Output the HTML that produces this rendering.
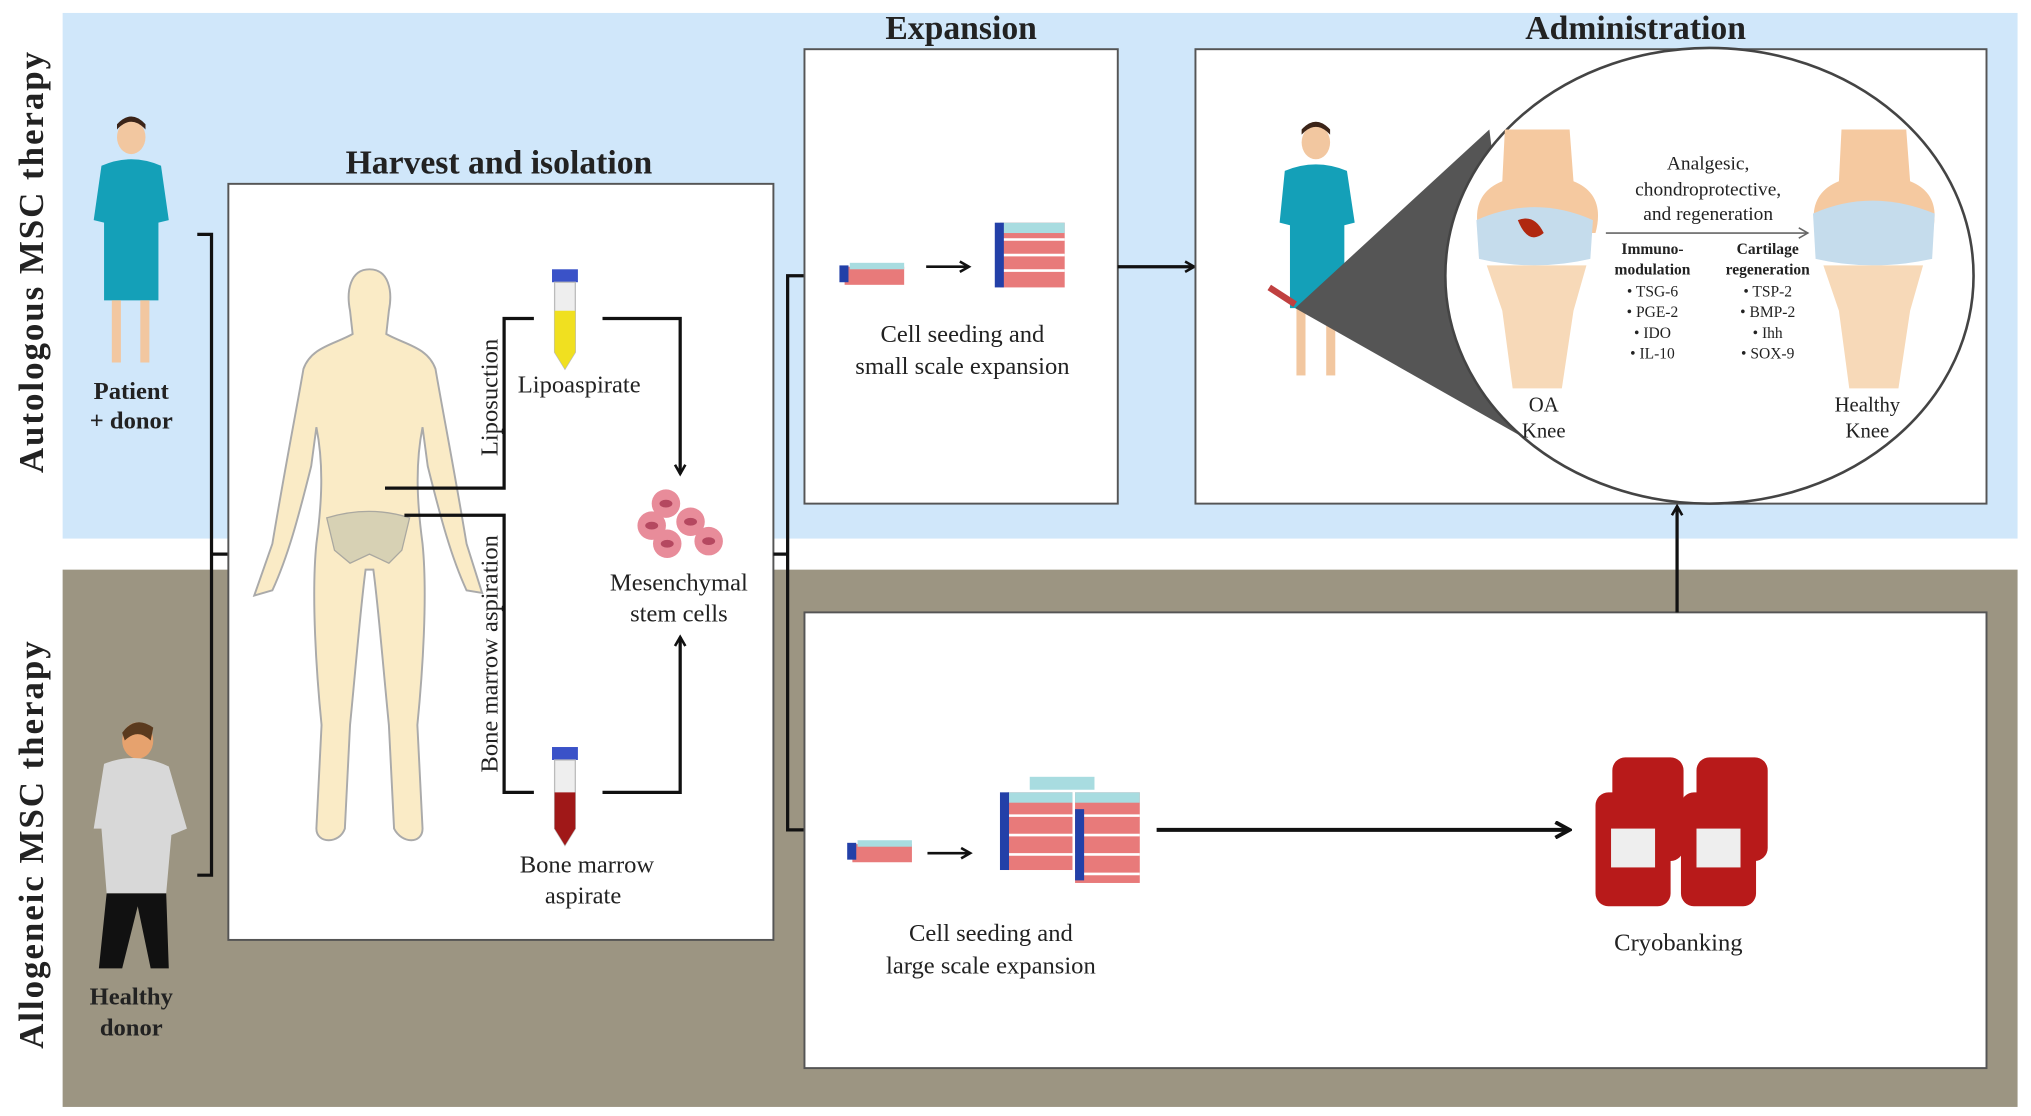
<!DOCTYPE html>
<html><head><meta charset="utf-8"><style>
html,body{margin:0;padding:0;background:#fff;}
svg{display:block;}
text{font-family:"Liberation Serif",serif;fill:#222;}
</style></head><body>
<svg width="2031" height="1116" viewBox="0 0 1568 862" xmlns="http://www.w3.org/2000/svg">
<defs>
<marker id="ah" markerWidth="10" markerHeight="10" refX="8" refY="5" orient="auto" markerUnits="userSpaceOnUse"><path d="M1,1 L8,5 L1,9" fill="none" stroke="#111" stroke-width="2"/></marker>
<marker id="ah2" markerWidth="14" markerHeight="14" refX="12" refY="7" orient="auto" markerUnits="userSpaceOnUse"><path d="M1,1 L12,7 L1,13" fill="none" stroke="#111" stroke-width="3"/></marker>
<marker id="ah3" markerWidth="10" markerHeight="10" refX="8" refY="5" orient="auto" markerUnits="userSpaceOnUse"><path d="M1,1 L8,5 L1,9" fill="none" stroke="#666" stroke-width="1.2"/></marker>
</defs>
<rect width="1568" height="862" fill="#fff"/>
<rect x="48" y="10" width="1510" height="406" fill="#d0e7fa"/>
<rect x="48" y="440" width="1510" height="415" fill="#9c9582"/>

<text transform="translate(33,202) rotate(-90)" text-anchor="middle" font-size="27" font-weight="bold" letter-spacing="1.5">Autologous MSC therapy</text>
<text transform="translate(33,652) rotate(-90)" text-anchor="middle" font-size="27" font-weight="bold" letter-spacing="1.5">Allogeneic MSC therapy</text>

<ellipse cx="101" cy="106" rx="11" ry="13" fill="#f2c7a0"/>
<path d="M90,100 Q101,88 112,100 L112,96 Q101,84 90,96Z" fill="#3b2418"/>
<path d="M78,128 Q101,118 124,128 L130,170 L122,172 L122,232 L80,232 L80,172 L72,170Z" fill="#14a0b8"/>
<rect x="86" y="232" width="7" height="48" fill="#f2c7a0"/><rect x="108" y="232" width="7" height="48" fill="#f2c7a0"/>
<text x="101" y="308" text-anchor="middle" font-size="19" font-weight="bold">Patient</text>
<text x="101" y="331" text-anchor="middle" font-size="19" font-weight="bold">+ donor</text>

<ellipse cx="106" cy="572" rx="12" ry="14" fill="#e6a26e"/>
<path d="M94,566 Q104,552 118,562 L116,572 Q106,562 96,572Z" fill="#5a3a1e"/>
<path d="M80,590 Q105,580 130,592 L144,640 L132,645 L128,690 L82,690 L78,640 L72,640Z" fill="#d8d8d8"/>
<path d="M82,690 L128,690 L130,748 L116,748 L106,700 L94,748 L76,748Z" fill="#111"/>
<text x="101" y="776" text-anchor="middle" font-size="19" font-weight="bold">Healthy</text>
<text x="101" y="800" text-anchor="middle" font-size="19" font-weight="bold">donor</text>

<path d="M152,181 H163 V676 H152 M163,428 H176" fill="none" stroke="#111" stroke-width="2.5"/>

<text x="385" y="134" text-anchor="middle" font-size="26" font-weight="bold">Harvest and isolation</text>
<rect x="176" y="142" width="421" height="584" fill="#fff" stroke="#555" stroke-width="1.5"/>
<path d="M285,208 C300,208 303,225 300,240 L298,258 C312,266 330,268 336,285 C342,320 350,360 360,420 L372,458 L360,456 C348,430 340,400 330,360 L326,330 C320,360 322,390 326,420 C330,460 326,520 322,560 L326,640 C326,652 310,652 304,640 L300,560 C296,520 292,470 288,440 L282,440 C278,470 274,520 270,560 L266,640 C262,652 244,652 244,640 L248,560 C244,520 240,460 244,420 C248,390 250,360 244,330 L240,360 C230,400 222,430 210,456 L196,460 L210,420 C220,360 228,320 234,285 C240,268 258,266 272,258 L270,240 C267,225 270,208 285,208Z" fill="#faebc6" stroke="#aaa" stroke-width="1.5"/>
<path d="M252,400 Q285,390 316,400 L310,425 L300,435 L285,428 L270,435 L258,425Z" fill="#d7d1b4" stroke="#aaa8a0"/>
<text transform="translate(384,307) rotate(-90)" text-anchor="middle" font-size="19">Liposuction</text>
<text transform="translate(384,505) rotate(-90)" text-anchor="middle" font-size="19">Bone marrow aspiration</text>
<path d="M297,377 H389 V246 H412" fill="none" stroke="#111" stroke-width="2.5"/>
<path d="M312,398 H389 V612 H412" fill="none" stroke="#111" stroke-width="2.5"/>
<path d="M465,246 H525 V366" fill="none" stroke="#111" stroke-width="2.5" marker-end="url(#ah)"/>
<path d="M465,612 H525 V492" fill="none" stroke="#111" stroke-width="2.5" marker-end="url(#ah)"/>
<rect x="426" y="208" width="20" height="10" fill="#3a52c8"/>
<path d="M428,218 H444 V272 L436,285 L428,272Z" fill="#eee" stroke="#bbb"/>
<path d="M428,240 H444 V272 L436,285 L428,272Z" fill="#f0e020"/>
<rect x="426" y="577" width="20" height="10" fill="#3a52c8"/>
<path d="M428,587 H444 V640 L436,653 L428,640Z" fill="#eee" stroke="#bbb"/>
<path d="M428,612 H444 V640 L436,653 L428,640Z" fill="#a01818"/>
<text x="447" y="303" text-anchor="middle" font-size="19">Lipoaspirate</text>
<text x="453" y="674" text-anchor="middle" font-size="19">Bone marrow</text>
<text x="450" y="698" text-anchor="middle" font-size="19">aspirate</text>
<g fill="#e88c9a"><circle cx="514" cy="389" r="11"/><circle cx="503" cy="406" r="11"/><circle cx="533" cy="403" r="11"/><circle cx="515" cy="420" r="11"/><circle cx="547" cy="418" r="11"/></g>
<g fill="#b54860"><ellipse cx="514" cy="389" rx="5" ry="3"/><ellipse cx="503" cy="406" rx="5" ry="3"/><ellipse cx="533" cy="403" rx="5" ry="3"/><ellipse cx="515" cy="420" rx="5" ry="3"/><ellipse cx="547" cy="418" rx="5" ry="3"/></g>
<text x="524" y="456" text-anchor="middle" font-size="19">Mesenchymal</text>
<text x="524" y="480" text-anchor="middle" font-size="19">stem cells</text>

<path d="M597,428 H608 M621,213 H608 V641 H621" fill="none" stroke="#111" stroke-width="2.5"/>

<text x="742" y="30" text-anchor="middle" font-size="26" font-weight="bold">Expansion</text>
<rect x="621" y="38" width="242" height="351" fill="#fff" stroke="#555" stroke-width="1.5"/>
<rect x="652" y="206" width="46" height="14" fill="#e87a7a"/><rect x="656" y="203" width="42" height="5" fill="#a8dce0"/><rect x="648" y="205" width="7" height="13" fill="#2340a8"/>
<path d="M715,206 H748" stroke="#111" stroke-width="2" marker-end="url(#ah)"/>
<g><rect x="772" y="172" width="50" height="50" fill="#e87a7a"/><rect x="772" y="172" width="50" height="8" fill="#a8dce0"/><path d="M772,185 H822 M772,197 H822 M772,209 H822" stroke="#fff" stroke-width="2"/><rect x="768" y="172" width="7" height="50" fill="#2340a8"/></g>
<text x="743" y="264" text-anchor="middle" font-size="19">Cell seeding and</text>
<text x="743" y="289" text-anchor="middle" font-size="19">small scale expansion</text>
<path d="M863,206 H922" stroke="#111" stroke-width="2.5" marker-end="url(#ah)"/>

<text x="1263" y="30" text-anchor="middle" font-size="26" font-weight="bold">Administration</text>
<rect x="923" y="38" width="611" height="351" fill="#fff" stroke="#555" stroke-width="1.5"/>
<ellipse cx="1016" cy="110" rx="11" ry="13" fill="#f2c7a0"/>
<path d="M1005,104 Q1016,92 1027,104 L1027,100 Q1016,88 1005,100Z" fill="#3b2418"/>
<path d="M992,132 Q1016,122 1040,132 L1046,172 L1038,174 L1038,238 L996,238 L996,174 L988,172Z" fill="#14a0b8"/>
<rect x="1001" y="238" width="7" height="52" fill="#f2c7a0"/><rect x="1024" y="238" width="7" height="52" fill="#f2c7a0"/>
<path d="M980,222 L1000,235" stroke="#c04040" stroke-width="5"/>
<path d="M1000,238 L1150,100 L1180,340Z" fill="#555"/>
<ellipse cx="1320" cy="213" rx="204" ry="176" fill="#fff" stroke="#444" stroke-width="2"/>
<g>
<path d="M1162,100 H1212 L1215,140 Q1240,150 1232,180 H1142 Q1135,150 1160,140Z" fill="#f5c9a0"/>
<path d="M1140,170 Q1185,150 1230,170 L1228,200 Q1185,210 1142,200Z" fill="#c5dcec"/>
<path d="M1148,205 H1225 L1215,240 L1206,300 H1168 L1160,240Z" fill="#f7d9b8"/>
<path d="M1172,170 Q1185,165 1192,180 Q1180,190 1172,170Z" fill="#b02810"/>
<text x="1192" y="318" text-anchor="middle" font-size="16">OA</text>
<text x="1192" y="338" text-anchor="middle" font-size="16">Knee</text>
</g>
<g>
<path d="M1422,100 H1472 L1475,140 Q1500,150 1492,180 H1402 Q1395,150 1420,140Z" fill="#f5c9a0"/>
<path d="M1400,165 Q1445,145 1494,165 L1492,200 Q1445,210 1402,200Z" fill="#c5dcec"/>
<path d="M1408,205 H1485 L1475,240 L1466,300 H1428 L1420,240Z" fill="#f7d9b8"/>
<text x="1442" y="318" text-anchor="middle" font-size="16">Healthy</text>
<text x="1442" y="338" text-anchor="middle" font-size="16">Knee</text>
</g>
<text x="1319" y="131" text-anchor="middle" font-size="15" fill="#444">Analgesic,</text>
<text x="1319" y="151" text-anchor="middle" font-size="15" fill="#444">chondroprotective,</text>
<text x="1319" y="170" text-anchor="middle" font-size="15" fill="#444">and regeneration</text>
<path d="M1240,180 H1396" stroke="#666" stroke-width="1.2" marker-end="url(#ah3)"/>
<g font-size="12" text-anchor="middle">
<text x="1276" y="196" font-weight="bold">Immuno-</text>
<text x="1276" y="212" font-weight="bold">modulation</text>
<text x="1276" y="229">• TSG-6</text><text x="1276" y="245">• PGE-2</text><text x="1276" y="261">• IDO</text><text x="1276" y="277">• IL-10</text>
<text x="1365" y="196" font-weight="bold">Cartilage</text>
<text x="1365" y="212" font-weight="bold">regeneration</text>
<text x="1365" y="229">• TSP-2</text><text x="1365" y="245">• BMP-2</text><text x="1365" y="261">• Ihh</text><text x="1365" y="277">• SOX-9</text>
</g>

<rect x="621" y="473" width="913" height="352" fill="#fff" stroke="#555" stroke-width="1.5"/>
<path d="M1295,473 V391" stroke="#111" stroke-width="2.5" marker-end="url(#ah)"/>
<rect x="658" y="652" width="46" height="14" fill="#e87a7a"/><rect x="662" y="649" width="42" height="5" fill="#a8dce0"/><rect x="654" y="651" width="7" height="13" fill="#2340a8"/>
<path d="M716,659 H749" stroke="#111" stroke-width="2" marker-end="url(#ah)"/>
<g>
<rect x="778" y="612" width="50" height="60" fill="#e87a7a"/><rect x="778" y="612" width="50" height="8" fill="#a8dce0"/>
<rect x="830" y="612" width="50" height="70" fill="#e87a7a"/><rect x="830" y="612" width="50" height="8" fill="#a8dce0"/>
<rect x="795" y="600" width="50" height="10" fill="#a8dce0"/>
<path d="M778,630 H880 M778,645 H880 M778,660 H880 M778,675 H880" stroke="#fff" stroke-width="2"/>
<rect x="772" y="612" width="7" height="60" fill="#2340a8"/><rect x="830" y="625" width="7" height="55" fill="#2340a8"/>
</g>
<text x="765" y="727" text-anchor="middle" font-size="19">Cell seeding and</text>
<text x="765" y="752" text-anchor="middle" font-size="19">large scale expansion</text>
<path d="M893,641 H1212" stroke="#111" stroke-width="3" marker-end="url(#ah2)"/>
<g fill="#b81a1a">
<rect x="1245" y="585" width="55" height="80" rx="10"/><rect x="1310" y="585" width="55" height="80" rx="10"/>
<rect x="1232" y="612" width="58" height="88" rx="10"/><rect x="1298" y="612" width="58" height="88" rx="10"/>
</g>
<rect x="1244" y="640" width="34" height="30" fill="#eee"/><rect x="1310" y="640" width="34" height="30" fill="#eee"/>
<text x="1296" y="734" text-anchor="middle" font-size="19">Cryobanking</text>
</svg>
</body></html>
